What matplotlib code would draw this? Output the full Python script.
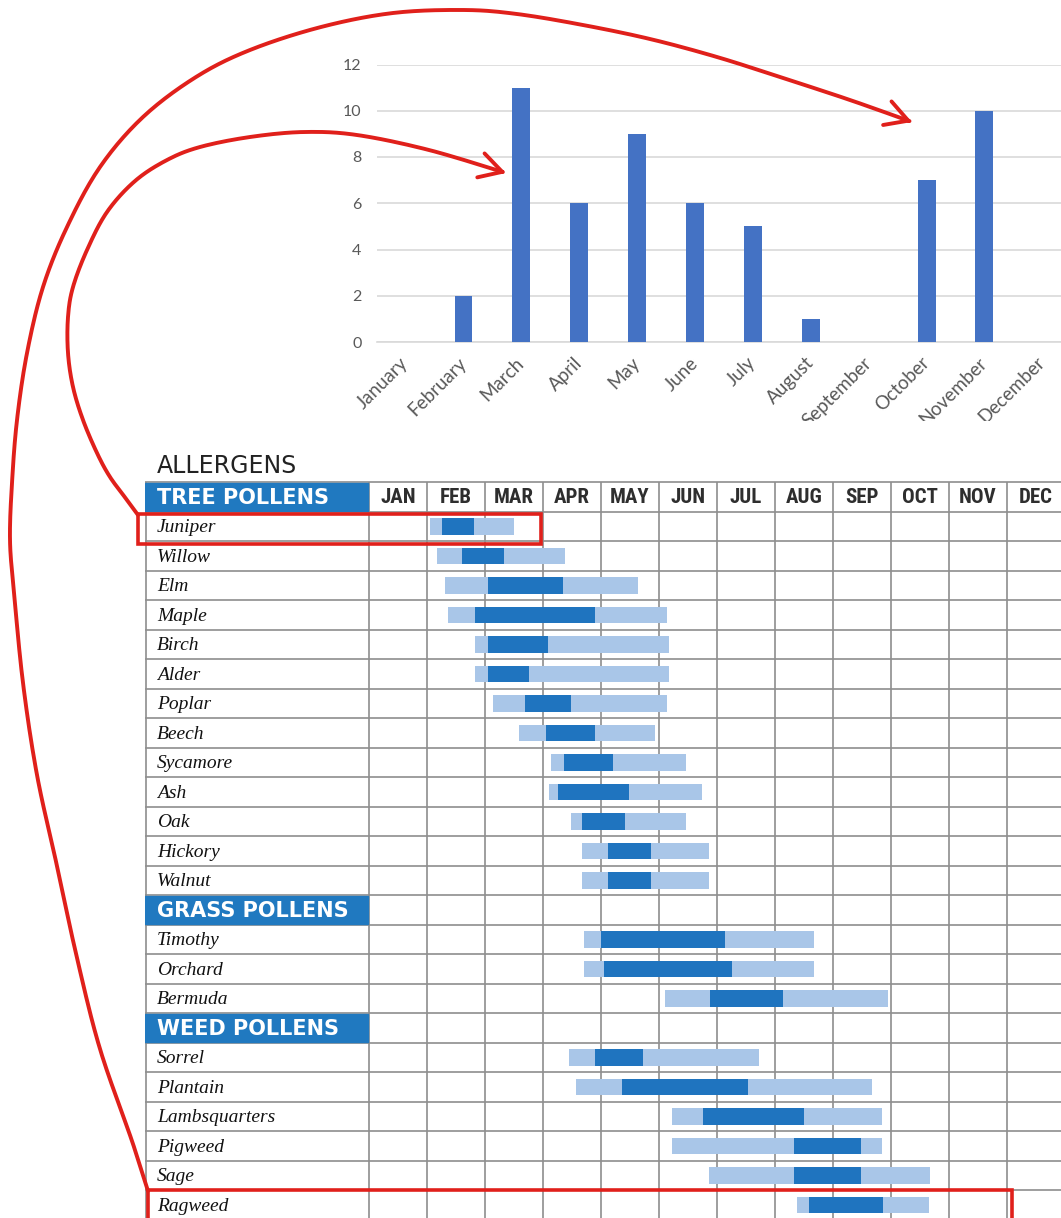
import numpy as np
import matplotlib.pyplot as plt
from matplotlib.patches import Rectangle, FancyArrowPatch
from matplotlib.path import Path
from matplotlib.transforms import Bbox

W, H = 1061, 1218

# counts per month (top bar chart)
months = ['January', 'February', 'March', 'April', 'May', 'June', 'July',
          'August', 'September', 'October', 'November', 'December']
counts = [0, 2, 11, 6, 9, 6, 5, 1, 0, 7, 10, 0]

# allergen calendar (months from start of Jan, 0..12)
month_abbr = ['JAN', 'FEB', 'MAR', 'APR', 'MAY', 'JUN', 'JUL', 'AUG', 'SEP', 'OCT', 'NOV', 'DEC']
groups = ['TREE POLLENS', 'GRASS POLLENS', 'WEED POLLENS']
plants = ['Juniper', 'Willow', 'Elm', 'Maple', 'Birch', 'Alder', 'Poplar', 'Beech',
          'Sycamore', 'Ash', 'Oak', 'Hickory', 'Walnut',
          'Timothy', 'Orchard', 'Bermuda',
          'Sorrel', 'Plantain', 'Lambsquarters', 'Pigweed', 'Sage', 'Ragweed']
plant_group = [0] * 13 + [1] * 3 + [2] * 6
season_start = [1.06, 1.18, 1.31, 1.37, 1.82, 1.82, 2.14, 2.59, 3.13, 3.10, 3.48, 3.68, 3.68,
                3.70, 3.70, 5.10, 3.45, 3.57, 5.22, 5.22, 5.86, 7.38]
season_end = [2.50, 3.38, 4.64, 5.13, 5.17, 5.17, 5.13, 4.93, 5.47, 5.74, 5.47, 5.86, 5.86,
              7.67, 7.67, 8.94, 6.72, 8.68, 8.84, 8.84, 9.68, 9.66]
peak_start = [1.25, 1.60, 2.06, 1.82, 2.06, 2.06, 2.69, 3.06, 3.36, 3.25, 3.67, 4.12, 4.12,
              4.00, 4.05, 5.88, 3.90, 4.36, 5.75, 7.33, 7.33, 7.58]
peak_end = [1.81, 2.32, 3.35, 3.90, 3.09, 2.75, 3.48, 3.90, 4.21, 4.49, 4.41, 4.86, 4.86,
            6.13, 6.26, 7.14, 4.73, 6.53, 7.50, 8.49, 8.49, 8.87]

RED = '#e0201b'
DARK = '#1f74bf'
LIGHT = '#a9c6e8'
GRID = '#8e8e8e'

fig = plt.figure(figsize=(W / 100, H / 100), dpi=100)
fig.patch.set_facecolor('white')

# ---- top bar chart ----
cat_w = 57.88
x_left = 376.7
ax = fig.add_axes([x_left / W, 1 - 342 / H, 12 * cat_w / W, (342 - 64.5) / H])
x = np.arange(len(months))
ax.bar(x, counts, width=0.31, color='#4472c4', zorder=3)
ax.set_xlim(-0.5, 11.5)
ax.set_ylim(0, 12)
ax.set_yticks(range(0, 13, 2))
ax.yaxis.grid(True, color='#d9d9d9', lw=1.2)
ax.set_axisbelow(True)
for s in ['left', 'right', 'top']:
    ax.spines[s].set_visible(False)
ax.spines['bottom'].set_color('#d9d9d9')
ax.spines['bottom'].set_linewidth(1.2)
ax.tick_params(length=0, colors='#595959')
ax.tick_params(axis='y', pad=11, labelsize=11.5)
ax.set_xticks(x)
ax.set_xticklabels(months, rotation=45, ha='right', va='center', rotation_mode='anchor',
                   fontsize=13.5, family='Lato')
ax.tick_params(axis='x', pad=13)
for lbl in ax.get_yticklabels():
    lbl.set_family('Lato')
clip = Bbox([[0, H - 421], [W, H]])
for lbl in ax.get_xticklabels():
    lbl.set_clip_box(clip)
    lbl.set_clip_on(True)

# ---- allergen calendar ----
col_w, row_h = 58.0, 29.5
x0 = (145 - 369) / col_w
x1 = (W - 369) / col_w
y_bot = (H - 497) / row_h
tax = fig.add_axes([145 / W, 0, (W - 145) / W, (H - 482.25) / H])
tax.set_xlim(x0, x1)
tax.set_ylim(y_bot, -0.5)
tax.axis('off')

# row positions: group header rows followed by their plants
rows = []
group_rows = []
r = 0
for g in range(len(groups)):
    group_rows.append(r)
    r += 1
    for p in range(len(plants)):
        if plant_group[p] == g:
            rows.append(r)
            r += 1
rows = np.array(rows)

tax.hlines(np.arange(-0.5, r + 0.5), x0, x1, color=GRID, lw=1.2, zorder=1, clip_on=False)
tax.vlines(np.arange(0, 13), -0.5, y_bot, color=GRID, lw=1.2, zorder=1, clip_on=False)
tax.vlines([x0 + 0.01], -0.5, y_bot, color=GRID, lw=1.2, zorder=1, clip_on=False)

s0, s1 = np.array(season_start), np.array(season_end)
p0, p1 = np.array(peak_start), np.array(peak_end)
tax.barh(rows, s1 - s0, left=s0, height=0.57, color=LIGHT, zorder=2)
tax.barh(rows, p1 - p0, left=p0, height=0.57, color=DARK, zorder=3)

narrow = ['Roboto Condensed', 'Liberation Sans Narrow', 'DejaVu Sans']
for i, m in enumerate(month_abbr):
    tax.text(i + 0.5, 0.02, m, ha='center', va='center', family=narrow, stretch='condensed',
             weight='bold', fontsize=15, color='#2e2e2e', zorder=4)

lab_x = x0 + 12 / col_w
for name, rr in zip(plants, rows):
    tax.text(lab_x, rr + 0.05, name, ha='left', va='center', family='Liberation Serif',
             style='italic', fontsize=14, color='#111111', zorder=4)

for g, rr in zip(groups, group_rows):
    tax.add_patch(Rectangle((x0, rr - 0.47), -x0 - 0.02, 0.94, color='#2079c0', zorder=3))
    tax.text(lab_x, rr + 0.03, g, ha='left', va='center', family='DejaVu Sans',
             weight='bold', fontsize=15, color='white', zorder=4)

fig.text(157 / W, 1 - 466 / H, 'ALLERGENS', ha='left', va='center', family='DejaVu Sans',
         fontsize=17, color='#222222')

# ---- red annotations (pixel overlay) ----
oax = fig.add_axes([0, 0, 1, 1], zorder=10)
oax.set_xlim(0, W)
oax.set_ylim(H, 0)
oax.axis('off')
oax.patch.set_alpha(0)

oax.add_patch(Rectangle((138, 514), 403, 30, fill=False, ec=RED, lw=2.6))
oax.add_patch(Rectangle((148, 1190), 864, 40, fill=False, ec=RED, lw=2.6, clip_on=False))


def smooth(pts, n=14):
    p = np.asarray(pts, float)
    p = np.vstack([p[0], p, p[-1]])
    out = []
    t = np.linspace(0, 1, n, endpoint=False)[:, None]
    for i in range(1, len(p) - 2):
        a, b, c, d = p[i - 1], p[i], p[i + 1], p[i + 2]
        out.append(0.5 * (2 * b + (-a + c) * t + (2 * a - 5 * b + 4 * c - d) * t ** 2
                          + (-a + 3 * b - 3 * c + d) * t ** 3))
    out.append(p[-2][None])
    return np.vstack(out)


arrow_inner = [(138, 515), (127, 500), (110, 477), (97, 453), (83, 420), (73, 387), (68, 353),
               (68, 317), (73, 287), (87, 250), (107, 212), (135, 181), (167, 160), (200, 147),
               (250, 137), (304, 132), (357, 135), (429, 150), (506, 173)]
arrow_outer = [(148, 1191), (132, 1141), (100, 1049), (77, 958), (57, 866), (37, 775),
               (23, 683), (14, 592), (10, 540), (12, 483), (17, 420), (27, 353), (43, 287),
               (67, 227), (100, 167), (143, 117), (196, 77), (250, 50), (321, 27), (393, 13),
               (464, 10), (517, 14), (583, 25), (650, 39), (717, 57), (783, 78), (850, 100),
               (912, 122)]

for pts in [arrow_inner, arrow_outer]:
    path = Path(smooth(pts))
    arr = FancyArrowPatch(path=path, arrowstyle='->,head_length=0.8,head_width=0.45',
                          mutation_scale=20, color=RED, lw=2.8, capstyle='round',
                          joinstyle='round')
    oax.add_patch(arr)

fig.savefig('out.png', dpi=100)
